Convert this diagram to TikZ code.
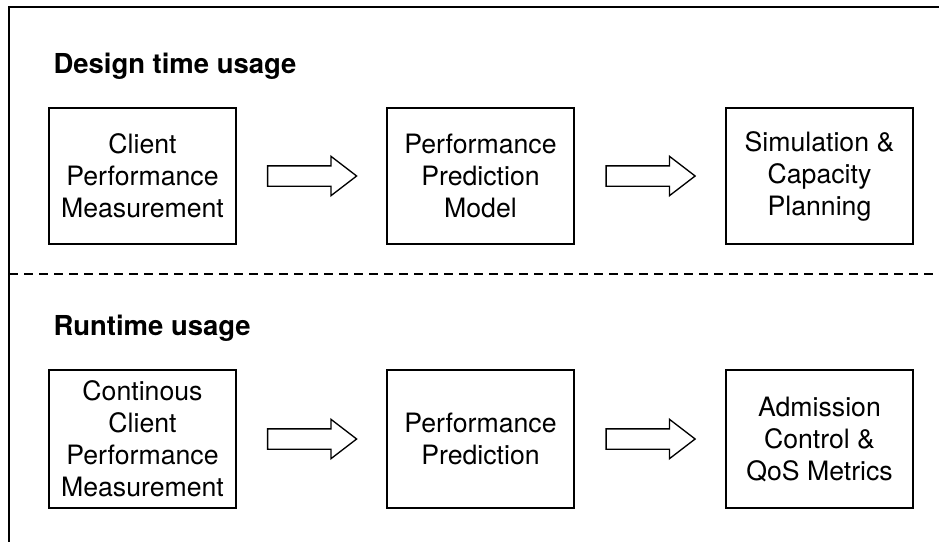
\documentclass[tikz,border=0pt]{standalone}
\usepackage{fontspec}
\setmainfont{TeX Gyre Heros}
\usetikzlibrary{shapes.arrows,calc}

\tikzset{every picture/.style={line width=0.75pt}}
\tikzset{
  stagebox/.style={draw, line width=1pt, align=center, inner sep=0.75pt, minimum width=140.25pt, font=\fontsize{20}{24}\selectfont},
  blockarrow/.style={draw, line width=1pt, single arrow, single arrow head extend=7.125pt, single arrow tip angle=75, minimum height=66.75pt, inner xsep=0pt, inner ysep=7.125pt, xshift=-4.5pt},
  heading/.style={anchor=base west, inner sep=0.75pt, font=\fontsize{20.6}{24}\selectfont\bfseries}
}

\begin{document}
\begin{tikzpicture}[x=0.75pt,y=0.75pt,yscale=-1,xscale=1]
\useasboundingbox (0,0) rectangle (939,542);

%Frame
\draw [line width=1.1pt]  (939,7) -- (9,7) -- (9,542) ;
%Separator
\draw [line width=1pt, dash pattern=on 6.75pt off 4.5pt]  (9,274) -- (939,274) ;

% Text Node
\draw (52,74) node [heading] (designhead) {Design time usage};
% Text Node
\draw (52,335) node [heading] (runhead) {Runtime usage};

%Design time boxes
\node [stagebox, minimum height=102pt] (measure) at (142.5,176) {Client\\Performance\\Measurement};
\node [stagebox, minimum height=102pt] (model) at (480.5,176) {Performance\\Prediction\\Model};
\node [stagebox, minimum height=102pt] (planning) at (819.5,176) {Simulation \&\\Capacity\\Planning};

%Runtime boxes
\node [stagebox, minimum height=103.5pt] (contmeasure) at (142.5,439) {Continous\\Client\\Performance\\Measurement};
\node [stagebox, minimum height=103.5pt] (prediction) at (480.5,439) {Performance\\Prediction};
\node [stagebox, minimum height=103.5pt] (admission) at (819.5,439) {Admission\\Control \&\\QoS Metrics};

%Block arrows
\node [blockarrow] (arrA) at ($(measure.east)!0.5!(model.west)$) {};
\node [blockarrow] (arrB) at ($(model.east)!0.5!(planning.west)$) {};
\node [blockarrow] (arrC) at ($(contmeasure.east)!0.5!(prediction.west)$) {};
\node [blockarrow] (arrD) at ($(prediction.east)!0.5!(admission.west)$) {};

\end{tikzpicture}
\end{document}
